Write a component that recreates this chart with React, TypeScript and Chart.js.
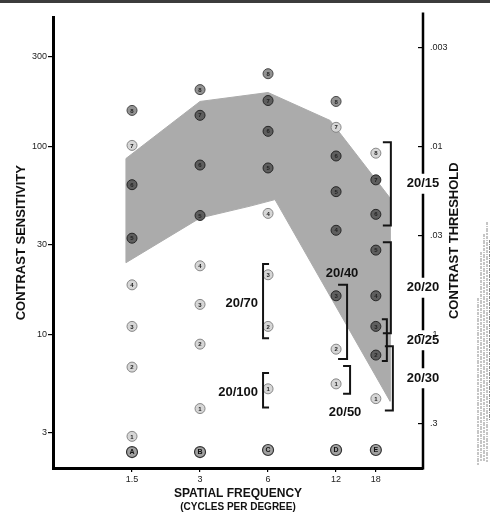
import { useEffect, useRef } from 'react';
import { Chart, registerables } from 'chart.js';

Chart.register(...registerables);

// ---------- data ----------
const frequencies = [1.5, 3, 6, 12, 18];
const freqTickLabels = ['1.5', '3', '6', '12', '18'];
const sensTicks = [3, 10, 30, 100, 300];
const sensTickLabels = ['3', '10', '30', '100', '300'];
const thresholdTicks = [0.003, 0.01, 0.03, 0.1, 0.3];
const thresholdTickLabels = ['.003', '.01', '.03', '.1', '.3'];

const rowLetters = ['A', 'B', 'C', 'D', 'E'];
const rowLetterSens = [2.36, 2.36, 2.42, 2.42, 2.42];
const patchNumbers = ['1', '2', '3', '4', '5', '6', '7', '8'];
const rowA = [2.86, 6.68, 11.0, 18.3, 32.4, 62.4, 101, 155];
const rowB = [4.02, 8.85, 14.4, 23.1, 42.8, 79.4, 146, 200];
const rowC = [5.12, 11.0, 20.7, 43.9, 76.6, 120, 175, 243];
const rowD = [5.44, 8.32, 16.0, 35.7, 57.3, 88.7, 126, 173];
const rowE = [4.54, 7.74, 11.0, 16.0, 28.0, 43.4, 66.2, 91.8];

const bandUpperFreq = [1.41, 3, 6, 11.3, 20.8];
const bandUpperSens = [86, 173, 193, 137, 53];
const bandLowerFreq = [1.41, 3, 5, 6.44, 20.8];
const bandLowerSens = [24, 41.5, 48, 52, 4.4];

const acuityLabels = ['20/15', '20/20', '20/25', '20/30', '20/40', '20/50', '20/70', '20/100'];
const acuityFreq = [18, 18, 18, 18, 12, 12, 6, 6];
const acuityHigh = [105, 30.8, 12.0, 8.63, 18.3, 6.77, 23.6, 6.22];
const acuityLow = [37.9, 10.1, 7.2, 3.93, 7.38, 4.82, 9.5, 4.07];

const SENS_MIN = 1.941;
const SENS_MAX = 484.4;
const FREQ_MIN = 0.6705;
const FREQ_MAX = 29.1;

// ---------- styling helpers ----------
const FONT = "'Liberation Sans', Arial, Helvetica, sans-serif";

function interpLog(fs: number[], vs: number[], f: number) {
  const lf = Math.log(f);
  for (let i = 0; i < fs.length - 1; i++) {
    const a = Math.log(fs[i]);
    const b = Math.log(fs[i + 1]);
    if (lf >= a && lf <= b) {
      const t = (lf - a) / (b - a);
      return Math.exp(Math.log(vs[i]) + t * (Math.log(vs[i + 1]) - Math.log(vs[i])));
    }
  }
  return NaN;
}

function patchKind(ctx: any): 'dark' | 'mid' | 'light' {
  const raw = ctx.raw;
  if (!raw) return 'light';
  const up = interpLog(bandUpperFreq, bandUpperSens, raw.x);
  const lo = interpLog(bandLowerFreq, bandLowerSens, raw.x);
  if (raw.y <= up && raw.y >= lo) return 'dark';
  if (ctx.dataIndex === patchNumbers.length - 1 && raw.x < 15) return 'mid';
  return 'light';
}

const fills = { dark: '#5e5e5e', mid: '#929292', light: '#d6d6d6' };
const borders = { dark: '#262626', mid: '#474747', light: '#878787' };

// bracket placement style (px offsets from the column), keyed by label
const bracketStyle: Record<string, { dx: number; hook: number; label: 'axis' | 'left' | 'above' | 'below' }> = {
  '20/15': { dx: 15, hook: -8, label: 'axis' },
  '20/20': { dx: 15, hook: -8, label: 'axis' },
  '20/25': { dx: 11, hook: -5, label: 'axis' },
  '20/30': { dx: 17, hook: -8, label: 'axis' },
  '20/40': { dx: 11, hook: -9, label: 'above' },
  '20/50': { dx: 14, hook: -7, label: 'below' },
  '20/70': { dx: -5, hook: 6, label: 'left' },
  '20/100': { dx: -5, hook: 6, label: 'left' },
};

const vistechPlugin = {
  id: 'vistech',
  beforeDraw(chart: any) {
    const { ctx, width, height } = chart;
    ctx.save();
    ctx.fillStyle = '#ffffff';
    ctx.fillRect(0, 0, width, height);
    ctx.fillStyle = '#3c3c3c';
    ctx.fillRect(0, 0, width, 3);
    ctx.restore();
  },
  afterDatasetsDraw(chart: any) {
    const { ctx } = chart;
    ctx.save();
    ctx.textAlign = 'center';
    ctx.textBaseline = 'middle';
    chart.data.datasets.forEach((ds: any, i: number) => {
      const labels = ds.patchLabels;
      if (!labels) return;
      const meta = chart.getDatasetMeta(i);
      meta.data.forEach((el: any, j: number) => {
        ctx.font = `bold ${ds.isLetters ? 7 : 6}px ${FONT}`;
        ctx.fillStyle = ds.isLetters ? '#111' : '#222';
        ctx.fillText(labels[j], el.x, el.y + 0.5);
      });
    });
    ctx.restore();
  },
  afterDraw(chart: any) {
    const { ctx } = chart;
    const xs = chart.scales.x;
    const ys = chart.scales.y;
    const y2 = chart.scales.y2;
    const axisX = y2.left;
    ctx.save();

    // brackets & acuity labels
    const gaps: Array<[number, number]> = [];
    ctx.strokeStyle = '#141414';
    ctx.lineWidth = 2;
    ctx.fillStyle = '#111';
    ctx.font = `bold 13px ${FONT}`;
    ctx.textBaseline = 'middle';
    acuityLabels.forEach((lab, i) => {
      const st = bracketStyle[lab];
      const cx = xs.getPixelForValue(acuityFreq[i]);
      const bx = cx + st.dx;
      const yTop = ys.getPixelForValue(acuityHigh[i]);
      const yBot = ys.getPixelForValue(acuityLow[i]);
      ctx.beginPath();
      ctx.moveTo(bx + st.hook, yTop);
      ctx.lineTo(bx, yTop);
      ctx.lineTo(bx, yBot);
      ctx.lineTo(bx + st.hook, yBot);
      ctx.stroke();
      const mid = (yTop + yBot) / 2;
      if (st.label === 'axis') {
        ctx.textAlign = 'center';
        ctx.fillText(lab, axisX, mid);
        gaps.push([mid - 10, mid + 10]);
      } else if (st.label === 'left') {
        ctx.textAlign = 'right';
        ctx.fillText(lab, bx - 5, mid + 2);
      } else if (st.label === 'above') {
        ctx.textAlign = 'center';
        ctx.fillText(lab, bx - 5, yTop - 11);
      } else {
        ctx.textAlign = 'center';
        ctx.fillText(lab, bx - 5, yBot + 19);
      }
    });

    // right axis line with gaps for the acuity labels
    ctx.strokeStyle = '#000';
    ctx.lineWidth = 2.5;
    const top = chart.chartArea.top - 5;
    const bottom = chart.chartArea.bottom + 1.5;
    gaps.sort((a, b) => a[0] - b[0]);
    let cur = top;
    ctx.beginPath();
    gaps.forEach(([g0, g1]) => {
      if (g0 > cur) {
        ctx.moveTo(axisX, cur);
        ctx.lineTo(axisX, g0);
      }
      cur = Math.max(cur, g1);
    });
    ctx.moveTo(axisX, cur);
    ctx.lineTo(axisX, bottom);
    ctx.stroke();

    // right title
    ctx.fillStyle = '#111';
    ctx.font = `bold 13px ${FONT}`;
    ctx.textAlign = 'center';
    ctx.textBaseline = 'middle';
    ctx.save();
    ctx.translate(454, (chart.chartArea.top + chart.chartArea.bottom) / 2 - 2);
    ctx.rotate(-Math.PI / 2);
    ctx.fillText('CONTRAST THRESHOLD', 0, 0);
    ctx.restore();

    // second line of x title
    ctx.font = `bold 10px ${FONT}`;
    ctx.fillText('(CYCLES PER DEGREE)', (chart.chartArea.left + chart.chartArea.right) / 2, 507);

    // fine print column at far right
    ctx.strokeStyle = '#8c8c8c';
    ctx.lineWidth = 1;
    ctx.setLineDash([3, 1, 1, 1, 4, 1, 2, 1]);
    const cols: Array<[number, number, number]> = [
      [478, 298, 465], [481, 252, 462], [484, 234, 462], [487, 222, 462], [489.5, 240, 420],
    ];
    cols.forEach(([x, a, b]) => {
      ctx.beginPath();
      ctx.moveTo(x, a);
      ctx.lineTo(x, b);
      ctx.stroke();
    });
    ctx.setLineDash([]);
    ctx.restore();
  },
};

export default function App() {
  const ref = useRef<HTMLCanvasElement | null>(null);

  useEffect(() => {
    if (!ref.current) return;
    const rows = [rowA, rowB, rowC, rowD, rowE];
    const bandPolygon = [
      ...bandUpperFreq.map((f, i) => ({ x: f, y: bandUpperSens[i] })),
      ...bandLowerFreq.map((f, i) => ({ x: f, y: bandLowerSens[i] })).reverse(),
      { x: bandUpperFreq[0], y: bandUpperSens[0] },
    ];

    const patchDatasets = rows.map((row, r) => ({
      type: 'scatter' as const,
      label: `Row ${rowLetters[r]}`,
      data: row.map((v) => ({ x: frequencies[r], y: v })),
      patchLabels: patchNumbers,
      pointRadius: 5,
      pointBorderWidth: 1,
      backgroundColor: (c: any) => fills[patchKind(c)],
      borderColor: (c: any) => borders[patchKind(c)],
      order: 1,
    }));

    const letterDataset = {
      type: 'scatter' as const,
      label: 'Rows',
      data: frequencies.map((f, i) => ({ x: f, y: rowLetterSens[i] })),
      patchLabels: rowLetters,
      isLetters: true,
      pointRadius: 5.5,
      pointBorderWidth: 1.2,
      backgroundColor: '#a0a0a0',
      borderColor: '#333',
      order: 1,
    };

    const bandDataset = {
      type: 'line' as const,
      label: 'Normal range',
      data: bandPolygon,
      fill: 'shape',
      backgroundColor: '#ababab',
      borderColor: '#ababab',
      borderWidth: 1,
      pointRadius: 0,
      tension: 0,
      order: 10,
    };

    const chart = new Chart(ref.current, {
      type: 'scatter',
      data: { datasets: [...patchDatasets, letterDataset, bandDataset] as any },
      plugins: [vistechPlugin],
      options: {
        animation: false,
        responsive: true,
        maintainAspectRatio: false,
        events: [],
        layout: { padding: { top: 13, left: 0, right: 0, bottom: 0 } },
        plugins: { legend: { display: false }, tooltip: { enabled: false } },
        scales: {
          x: {
            type: 'logarithmic',
            position: 'bottom',
            min: FREQ_MIN,
            max: FREQ_MAX,
            afterBuildTicks: (s: any) => {
              s.ticks = frequencies.map((v) => ({ value: v }));
            },
            afterFit: (s: any) => {
              s.height = 47;
            },
            ticks: {
              autoSkip: false,
              maxRotation: 0,
              padding: 2,
              color: '#222',
              font: { size: 9, family: FONT },
              callback: (_v: any, i: number) => freqTickLabels[i],
            },
            grid: { drawOnChartArea: false, drawTicks: true, tickLength: 4, color: '#000', lineWidth: 1.2 },
            border: { display: true, width: 3, color: '#000' },
            title: {
              display: true,
              text: 'SPATIAL FREQUENCY',
              color: '#111',
              font: { size: 12, weight: 'bold', family: FONT },
              padding: { top: 0, bottom: 14 },
            },
          },
          y: {
            type: 'logarithmic',
            position: 'left',
            min: SENS_MIN,
            max: SENS_MAX,
            afterBuildTicks: (s: any) => {
              s.ticks = sensTicks.map((v) => ({ value: v }));
            },
            afterFit: (s: any) => {
              s.width = 53;
            },
            ticks: {
              autoSkip: false,
              padding: 1,
              color: '#222',
              font: { size: 9, family: FONT },
              callback: (_v: any, i: number) => sensTickLabels[i],
            },
            grid: { drawOnChartArea: false, drawTicks: true, tickLength: 5, color: '#000', lineWidth: 1.2 },
            border: { display: true, width: 3, color: '#000' },
            title: {
              display: true,
              text: 'CONTRAST SENSITIVITY',
              color: '#111',
              font: { size: 13, weight: 'bold', family: FONT },
              padding: { top: 14, bottom: 0 },
            },
          },
          y2: {
            type: 'logarithmic',
            position: 'right',
            reverse: true,
            min: 1 / SENS_MAX,
            max: 1 / SENS_MIN,
            afterBuildTicks: (s: any) => {
              s.ticks = thresholdTicks.map((v) => ({ value: v }));
            },
            afterFit: (s: any) => {
              s.width = 67;
            },
            ticks: {
              autoSkip: false,
              padding: 12,
              color: '#222',
              font: { size: 9, family: FONT },
              callback: (_v: any, i: number) => thresholdTickLabels[i],
            },
            grid: { drawOnChartArea: false, drawTicks: true, tickLength: -5, color: '#000', lineWidth: 1.2 },
            border: { display: false },
          },
        },
      } as any,
    });
    return () => chart.destroy();
  }, []);

  return (
    <div style={{ position: 'absolute', left: 0, top: 0, width: 490, height: 515, background: '#fff' }}>
      <canvas ref={ref} />
    </div>
  );
}
